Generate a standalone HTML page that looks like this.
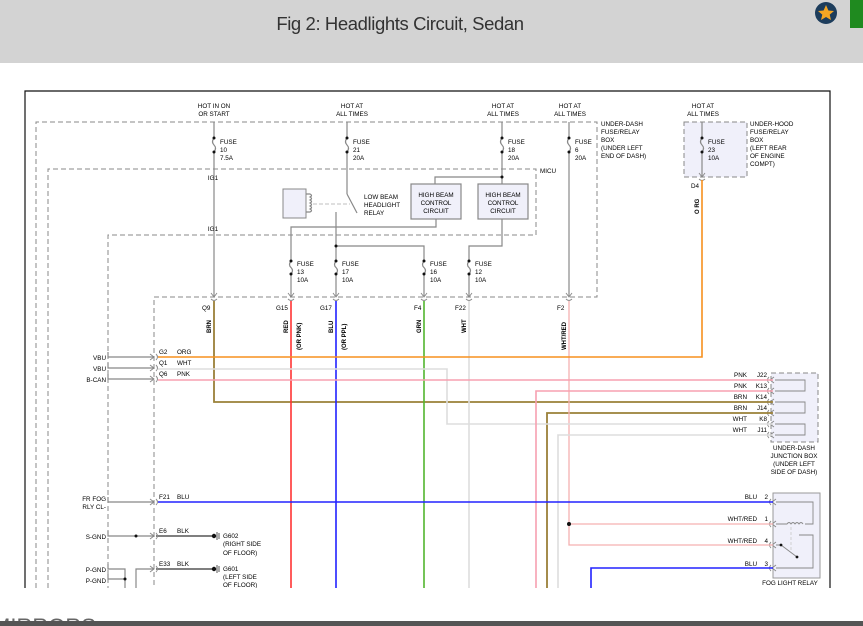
<!DOCTYPE html>
<html><head><meta charset="utf-8"><style>
html,body{margin:0;padding:0;width:863px;height:626px;overflow:hidden;background:#fff;font-family:"Liberation Sans",sans-serif}
.hdr{position:absolute;left:0;top:0;width:863px;height:63px;background:#d3d3d3}
.ttl{position:absolute;left:0;width:800px;top:13px;text-align:center;font-size:18.5px;color:#333;letter-spacing:-0.4px}
svg{position:absolute;left:0;top:0}
</style></head><body>
<div class="hdr"></div>
<div class="ttl">Fig 2: Headlights Circuit, Sedan</div>
<svg width="863" height="626" viewBox="0 0 863 626" font-family="Liberation Sans, sans-serif" font-size="6.3" fill="#000">
<circle cx="826" cy="13" r="11" fill="#1d3d5c"/>
<polygon points="826,5 828.4,10.5 834,11 829.7,14.6 831,20 826,17 821,20 822.3,14.6 818,11 823.6,10.5" fill="#f5a623"/>
<rect x="850" y="0" width="13" height="28" fill="#1f8a1f"/>
<polyline points="25,588 25,91 830,91 830,588" fill="none" stroke="#111" stroke-width="1.2"/>
<g fill="none" stroke="#888" stroke-width="1" stroke-dasharray="5,3">
<polyline points="36,588 36,122 597,122 597,297 154,297 154,588"/>
<polyline points="48,588 48,169 536,169 536,235 108,235 108,588"/>
<rect x="684" y="122" width="63" height="55" fill="#f0f0fa"/>
<rect x="771" y="373" width="47" height="69" fill="#f0f0fa"/>
</g>
<rect x="773" y="493" width="47" height="85" fill="#f0f0fa" stroke="#999"/>
<g fill="none" stroke="#888" stroke-width="1.2">
<line x1="214" y1="122" x2="214" y2="138"/><line x1="214" y1="152" x2="214" y2="296"/>
<line x1="347" y1="122" x2="347" y2="138"/><line x1="347" y1="152" x2="347" y2="194"/><line x1="347" y1="194" x2="357" y2="213"/>
<line x1="502" y1="122" x2="502" y2="138"/><line x1="502" y1="152" x2="502" y2="184"/>
<polyline points="502,177 435,177 435,184"/>
<line x1="569" y1="122" x2="569" y2="138"/><line x1="569" y1="152" x2="569" y2="296"/>
<line x1="702" y1="122" x2="702" y2="138"/><line x1="702" y1="152" x2="702" y2="176"/>
<polyline points="436,219 436,227 291,227 291,261"/><line x1="291" y1="274" x2="291" y2="296"/>
<line x1="336" y1="212" x2="336" y2="261"/><line x1="336" y1="274" x2="336" y2="296"/>
<polyline points="336,246 424,246 424,261"/><line x1="424" y1="274" x2="424" y2="296"/>
<polyline points="502,219 502,246 469,246 469,261"/><line x1="469" y1="274" x2="469" y2="296"/>
<path d="M214,138 q-3,4 0,7 q3,3 0,7"/><path d="M347,138 q-3,4 0,7 q3,3 0,7"/><path d="M502,138 q-3,4 0,7 q3,3 0,7"/><path d="M569,138 q-3,4 0,7 q3,3 0,7"/><path d="M702,138 q-3,4 0,7 q3,3 0,7"/>
<path d="M291,261 q-3,4 0,6.5 q3,3 0,6.5"/><path d="M336,261 q-3,4 0,6.5 q3,3 0,6.5"/><path d="M424,261 q-3,4 0,6.5 q3,3 0,6.5"/><path d="M469,261 q-3,4 0,6.5 q3,3 0,6.5"/>
<polyline points="108,352 108,357 154,357"/><polyline points="108,363 108,368 154,368"/><polyline points="108,374 108,379 154,379"/>
<polyline points="108,497 108,502 154,502"/>
<polyline points="108,531 108,536 154,536"/>
<polyline points="108,564 108,569 125,569 125,588"/><polyline points="108,574 108,579 125,579"/>
<polyline points="136,588 136,569 154,569"/>
<line x1="156" y1="536" x2="213" y2="536" stroke="#555" stroke-width="1.6"/>
<line x1="156" y1="569" x2="213" y2="569" stroke="#555" stroke-width="1.6"/>
<path d="M306,194 h4 q3,1.5 0,3 q3,1.5 0,3 q3,1.5 0,3 q3,1.5 0,3 q3,1.5 0,3 q3,1.5 0,3 h-4"/>
<line x1="313" y1="204" x2="350" y2="204" stroke="#ccc" stroke-dasharray="4,2"/>
</g>
<rect x="283" y="189" width="23" height="29" fill="#f0f0fa" stroke="#888"/>
<rect x="411" y="184" width="50" height="35" fill="#f0f0fa" stroke="#888" stroke-width="1.2"/>
<rect x="478" y="184" width="50" height="35" fill="#f0f0fa" stroke="#888" stroke-width="1.2"/>
<g fill="#111">
<circle cx="214" cy="138" r="1.5"/><circle cx="214" cy="152" r="1.5"/><circle cx="347" cy="138" r="1.5"/><circle cx="347" cy="152" r="1.5"/>
<circle cx="502" cy="138" r="1.5"/><circle cx="502" cy="152" r="1.5"/><circle cx="569" cy="138" r="1.5"/><circle cx="569" cy="152" r="1.5"/>
<circle cx="702" cy="138" r="1.5"/><circle cx="702" cy="152" r="1.5"/><circle cx="502" cy="177" r="1.5"/><circle cx="336" cy="246" r="1.5"/>
<circle cx="291" cy="261" r="1.5"/><circle cx="291" cy="274" r="1.5"/><circle cx="336" cy="261" r="1.5"/><circle cx="336" cy="274" r="1.5"/>
<circle cx="424" cy="261" r="1.5"/><circle cx="424" cy="274" r="1.5"/><circle cx="469" cy="261" r="1.5"/><circle cx="469" cy="274" r="1.5"/>
<circle cx="136" cy="536" r="1.5"/><circle cx="125" cy="579" r="1.5"/>
<circle cx="214" cy="536" r="2.2"/><circle cx="214" cy="569" r="2.2"/>
</g>
<g stroke="#555" stroke-width="1"><line x1="217" y1="532" x2="217" y2="540"/><line x1="219" y1="533" x2="219" y2="539"/><line x1="217" y1="565" x2="217" y2="573"/><line x1="219" y1="566" x2="219" y2="572"/></g>
<g fill="none" stroke="#888" stroke-width="0.9">
<path d="M211,293 l3,4 l3,-4 M211,299 q3,3 6,0"/><path d="M288,293 l3,4 l3,-4 M288,299 q3,3 6,0"/><path d="M333,293 l3,4 l3,-4 M333,299 q3,3 6,0"/>
<path d="M421,293 l3,4 l3,-4 M421,299 q3,3 6,0"/><path d="M466,293 l3,4 l3,-4 M466,299 q3,3 6,0"/><path d="M566,293 l3,4 l3,-4 M566,299 q3,3 6,0"/>
<path d="M699,173 l3,4 l3,-4 M699,179 q3,3 6,0"/>
<path d="M150,354 l4,3 l-4,3 M156,354 q3,3 0,6"/><path d="M150,365 l4,3 l-4,3 M156,365 q3,3 0,6"/><path d="M150,376 l4,3 l-4,3 M156,376 q3,3 0,6"/>
<path d="M150,499 l4,3 l-4,3 M156,499 q3,3 0,6"/><path d="M150,533 l4,3 l-4,3 M156,533 q3,3 0,6"/><path d="M150,566 l4,3 l-4,3 M156,566 q3,3 0,6"/>
<path d="M774,377 l-4,3 l4,3 M769,377 q-3,3 0,6"/><path d="M774,388 l-4,3 l4,3 M769,388 q-3,3 0,6"/><path d="M774,399 l-4,3 l4,3 M769,399 q-3,3 0,6"/>
<path d="M774,410 l-4,3 l4,3 M769,410 q-3,3 0,6"/><path d="M774,421 l-4,3 l4,3 M769,421 q-3,3 0,6"/><path d="M774,432 l-4,3 l4,3 M769,432 q-3,3 0,6"/>
<path d="M776,499 l-4,3 l4,3 M771,499 q-3,3 0,6"/><path d="M776,521 l-4,3 l4,3 M771,521 q-3,3 0,6"/><path d="M776,542 l-4,3 l4,3 M771,542 q-3,3 0,6"/><path d="M776,565 l-4,3 l4,3 M771,565 q-3,3 0,6"/>
<polyline points="775,380 805,380 805,391 775,391"/><polyline points="775,402 805,402 805,413 775,413"/><polyline points="775,424 805,424 805,435 775,435"/>
<polyline points="776,502 813,502 813,524 805,524"/>
<path d="M776,524 h11 q2,-3 4,0 q2,-3 4,0 q2,-3 4,0 q2,-3 4,0"/>
<line x1="791" y1="527" x2="791" y2="552" stroke="#ccc" stroke-dasharray="3,2"/>
<polyline points="776,545 781,545 797,557"/><polyline points="799,535 813,535 813,568 776,568"/>
</g>
<g fill="#111"><circle cx="781" cy="545" r="1.4"/><circle cx="797" cy="557" r="1.4"/></g>
<g fill="none" stroke-width="1.6">
<polyline points="214,301 214,402 773,402" stroke="#9a8038" stroke-width="1.8"/>
<polyline points="547,588 547,413 773,413" stroke="#9a8038" stroke-width="1.8"/>
<line x1="291" y1="301" x2="291" y2="588" stroke="#f33"/>
<line x1="336" y1="301" x2="336" y2="588" stroke="#22f"/>
<line x1="424" y1="301" x2="424" y2="588" stroke="#52b52e"/>
<line x1="469" y1="301" x2="469" y2="588" stroke="#ddd"/>
<polyline points="569,301 569,545 773,545" stroke="#f5b0b0" stroke-width="1.3"/>
<line x1="569" y1="524" x2="773" y2="524" stroke="#f5b0b0" stroke-width="1.3"/>
<polyline points="702,180 702,357 158,357" stroke="#f7901e"/>
<polyline points="158,369 447,369 447,424 773,424" stroke="#ddd"/>
<line x1="158" y1="380" x2="773" y2="380" stroke="#f7a0b0"/>
<polyline points="536,588 536,391 773,391" stroke="#f7a0b0"/>
<polyline points="558,588 558,435 773,435" stroke="#ddd"/>
<line x1="158" y1="502" x2="773" y2="502" stroke="#22f"/>
<polyline points="591,588 591,568 773,568" stroke="#22f"/>
</g>
<circle cx="569" cy="524" r="2" fill="#111"/>
<g text-anchor="middle">
<text x="214" y="108">HOT IN ON</text><text x="214" y="116">OR START</text>
<text x="352" y="108">HOT AT</text><text x="352" y="116">ALL TIMES</text>
<text x="503" y="108">HOT AT</text><text x="503" y="116">ALL TIMES</text>
<text x="570" y="108">HOT AT</text><text x="570" y="116">ALL TIMES</text>
<text x="703" y="108">HOT AT</text><text x="703" y="116">ALL TIMES</text>
<text x="213" y="180">IG1</text><text x="213" y="231">IG1</text>
<text x="436" y="197">HIGH BEAM</text><text x="436" y="205">CONTROL</text><text x="436" y="213">CIRCUIT</text>
<text x="503" y="197">HIGH BEAM</text><text x="503" y="205">CONTROL</text><text x="503" y="213">CIRCUIT</text>
<text x="794" y="450">UNDER-DASH</text><text x="794" y="458">JUNCTION BOX</text><text x="794" y="466">(UNDER LEFT</text><text x="794" y="474">SIDE OF DASH)</text>
<text x="790" y="585">FOG LIGHT RELAY</text>
</g>
<g>
<text x="220" y="144">FUSE</text><text x="220" y="152">10</text><text x="220" y="160">7.5A</text>
<text x="353" y="144">FUSE</text><text x="353" y="152">21</text><text x="353" y="160">20A</text>
<text x="508" y="144">FUSE</text><text x="508" y="152">18</text><text x="508" y="160">20A</text>
<text x="575" y="144">FUSE</text><text x="575" y="152">6</text><text x="575" y="160">20A</text>
<text x="708" y="144">FUSE</text><text x="708" y="152">23</text><text x="708" y="160">10A</text>
<text x="297" y="266">FUSE</text><text x="297" y="274">13</text><text x="297" y="282">10A</text>
<text x="342" y="266">FUSE</text><text x="342" y="274">17</text><text x="342" y="282">10A</text>
<text x="430" y="266">FUSE</text><text x="430" y="274">16</text><text x="430" y="282">10A</text>
<text x="475" y="266">FUSE</text><text x="475" y="274">12</text><text x="475" y="282">10A</text>
<text x="601" y="126">UNDER-DASH</text><text x="601" y="134">FUSE/RELAY</text><text x="601" y="142">BOX</text><text x="601" y="150">(UNDER LEFT</text><text x="601" y="158">END OF DASH)</text>
<text x="750" y="126">UNDER-HOOD</text><text x="750" y="134">FUSE/RELAY</text><text x="750" y="142">BOX</text><text x="750" y="150">(LEFT REAR</text><text x="750" y="158">OF ENGINE</text><text x="750" y="166">COMPT)</text>
<text x="540" y="173">MICU</text>
<text x="364" y="199">LOW BEAM</text><text x="364" y="207">HEADLIGHT</text><text x="364" y="215">RELAY</text>
<text x="691" y="188">D4</text>
<text x="202" y="310">Q9</text><text x="276" y="310">G15</text><text x="320" y="310">G17</text><text x="414" y="310">F4</text><text x="455" y="310">F22</text><text x="557" y="310">F2</text>
<text x="159" y="354">G2</text><text x="177" y="354">ORG</text>
<text x="159" y="365">Q1</text><text x="177" y="365">WHT</text>
<text x="159" y="376">Q6</text><text x="177" y="376">PNK</text>
<text x="159" y="499">F21</text><text x="177" y="499">BLU</text>
<text x="159" y="533">E6</text><text x="177" y="533">BLK</text>
<text x="159" y="566">E33</text><text x="177" y="566">BLK</text>
<text x="223" y="538">G602</text><text x="223" y="546">(RIGHT SIDE</text><text x="223" y="555">OF FLOOR)</text>
<text x="223" y="571">G601</text><text x="223" y="579">(LEFT SIDE</text><text x="223" y="587">OF FLOOR)</text>
</g>
<g text-anchor="end">
<text x="106" y="360">VBU</text><text x="106" y="371">VBU</text><text x="106" y="382">B-CAN</text>
<text x="106" y="501">FR FOG</text><text x="106" y="509">RLY CL-</text>
<text x="106" y="539">S-GND</text><text x="106" y="572">P-GND</text><text x="106" y="583">P-GND</text>
<text x="747" y="377">PNK</text><text x="767" y="377">J22</text>
<text x="747" y="388">PNK</text><text x="767" y="388">K13</text>
<text x="747" y="399">BRN</text><text x="767" y="399">K14</text>
<text x="747" y="410">BRN</text><text x="767" y="410">J14</text>
<text x="747" y="421">WHT</text><text x="767" y="421">K8</text>
<text x="747" y="432">WHT</text><text x="767" y="432">J11</text>
<text x="757" y="499">BLU</text><text x="768" y="499">2</text>
<text x="757" y="521">WHT/RED</text><text x="768" y="521">1</text>
<text x="757" y="543">WHT/RED</text><text x="768" y="543">4</text>
<text x="757" y="566">BLU</text><text x="768" y="566">3</text>
</g>
<g font-size="6" font-weight="bold">
<text transform="translate(211,333) rotate(-90)">BRN</text>
<text transform="translate(288,333) rotate(-90)">RED</text>
<text transform="translate(301,350) rotate(-90)">(OR PNK)</text>
<text transform="translate(333,333) rotate(-90)">BLU</text>
<text transform="translate(346,350) rotate(-90)">(OR PPL)</text>
<text transform="translate(421,333) rotate(-90)">GRN</text>
<text transform="translate(466,333) rotate(-90)">WHT</text>
<text transform="translate(566,350) rotate(-90)">WHT/RED</text>
<text transform="translate(699,214) rotate(-90)">O RG</text>
</g>
<rect x="0" y="588" width="863" height="34" fill="#fff"/>
<text x="-8" y="634" font-size="22" fill="#666">MIRRORS</text>
<rect x="0" y="621" width="863" height="5" fill="#555"/>
</svg>
</body></html>
